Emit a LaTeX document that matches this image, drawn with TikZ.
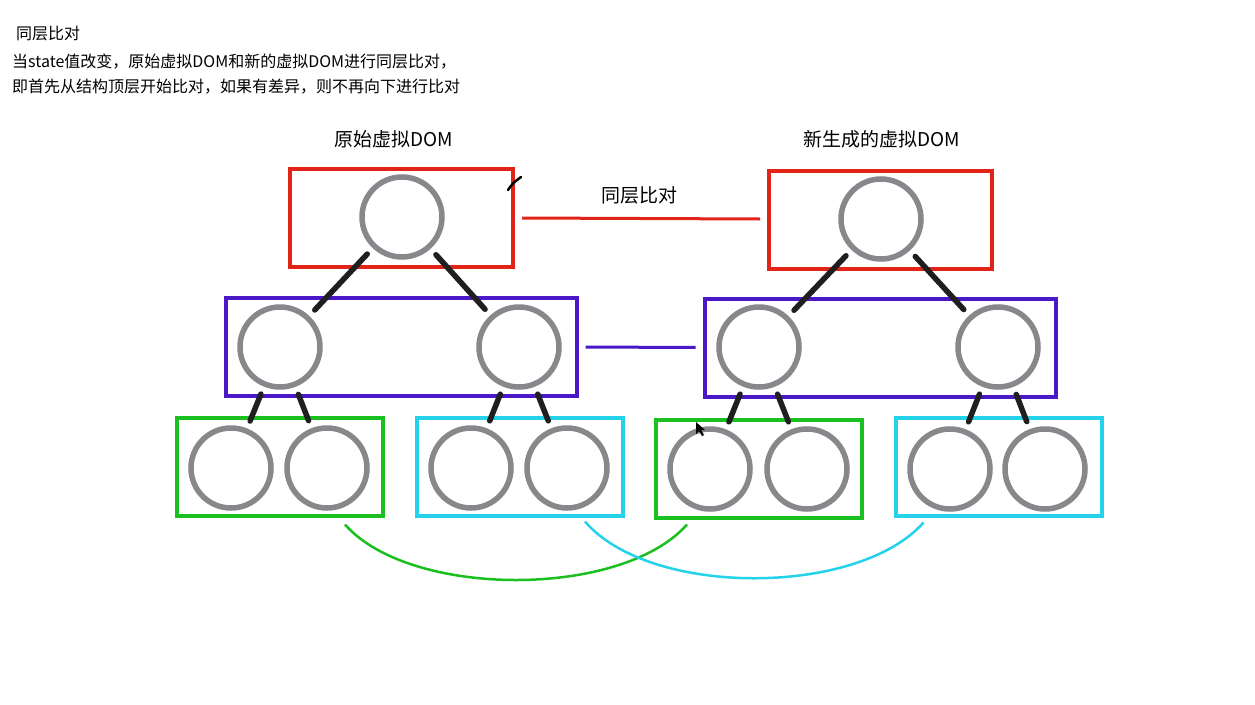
\documentclass[tikz,border=0pt]{standalone}
\usepackage{fontspec}
\setmainfont{Noto Sans CJK SC}
\usetikzlibrary{positioning}

\definecolor{vred}{RGB}{226,36,24}
\definecolor{vpurple}{RGB}{74,24,198}
\definecolor{vgreen}{RGB}{26,192,32}
\definecolor{vcyan}{RGB}{36,210,234}
\definecolor{vgray}{RGB}{136,136,140}

\begin{document}
\begin{tikzpicture}[x=1pt, y=-1pt,
  vnode/.style={circle, draw=vgray, line width=5.5pt, minimum size=80pt,
                inner sep=0pt},
  layer/.style={rectangle, draw=#1, line width=4pt, minimum width=223pt,
                minimum height=98pt},
  wide/.style={minimum width=351pt},
  leaf/.style={minimum width=206pt},
  tree/.style={black!88, line width=5.5pt, line cap=round,
               shorten <=8pt, shorten >=8pt},
  same/.style={line width=3pt, shorten <=7pt, shorten >=7pt},
  match/.style={line width=2.5pt},
  note/.style={inner sep=0pt, font=\fontsize{16}{19}\selectfont},
  head/.style={inner sep=0pt, font=\fontsize{19}{23}\selectfont}
]
\fill[white] (0,0) rectangle (1255,704);
\useasboundingbox (0,0) rectangle (1255,704);

% text at the top
\node[note, anchor=west] (title) at (16,33) {同层比对};
\node[note, anchor=west] (line1) at (12,62) {当state值改变，原始虚拟DOM和新的虚拟DOM进行同层比对，};
\node[note, anchor=west] (line2) at (12,87) {即首先从结构顶层开始比对，如果有差异，则不再向下进行比对};

% layer boxes
\node[layer=vred]            (R0) at (401.5,217.5) {};
\node[layer=vred]            (R1) at (880.5,219.5) {};
\node[layer=vpurple, wide]   (P0) at (401,346.5) {};
\node[layer=vpurple, wide]   (P1) at (880,348) {};
\node[layer=vgreen, leaf]    (G0) at (280,466.5) {};
\node[layer=vcyan, leaf]     (Q0) at (520,466.5) {};
\node[layer=vgreen, leaf]    (G1) at (759,468.5) {};
\node[layer=vcyan, leaf]     (Q1) at (998.5,466.5) {};

% old tree
\node[vnode] (n0)  at (402,217) {};
\node[vnode] (a0)  at (280,347) {};
\node[vnode] (b0)  at (519,347) {};
\node[vnode] (aa0) at (231,468) {};
\node[vnode] (ab0) at (327,468) {};
\node[vnode] (ba0) at (471,468) {};
\node[vnode] (bb0) at (567,468) {};

% new tree
\node[vnode] (n1)  at (881,219) {};
\node[vnode] (a1)  at (759,347) {};
\node[vnode] (b1)  at (998,347) {};
\node[vnode] (aa1) at (710,469) {};
\node[vnode] (ab1) at (807,469) {};
\node[vnode] (ba1) at (950,469) {};
\node[vnode] (bb1) at (1045,469) {};

\draw[tree] (n0) -- (a0);
\draw[tree] (n0) -- (b0);
\draw[tree] (a0) -- (aa0);
\draw[tree] (a0) -- (ab0);
\draw[tree] (b0) -- (ba0);
\draw[tree] (b0) -- (bb0);
\draw[tree] (n1) -- (a1);
\draw[tree] (n1) -- (b1);
\draw[tree] (a1) -- (aa1);
\draw[tree] (a1) -- (ab1);
\draw[tree] (b1) -- (ba1);
\draw[tree] (b1) -- (bb1);

% same level links
\draw[same, vred]    (R0) -- (R1);
\draw[same, vpurple] (P0) -- (P1);

\draw[match, vgreen] ([xshift=65pt, yshift=-7pt]G0.south)
  .. controls +(65,74) and +(-65,74) .. ([xshift=-72pt, yshift=-5pt]G1.south);
\draw[match, vcyan] ([xshift=65pt, yshift=-4pt]Q0.south)
  .. controls +(65,76) and +(-65,74) .. ([xshift=-75pt, yshift=-5pt]Q1.south);

% labels
\node[head] (oldlabel) at (394,139) {原始虚拟DOM};
\node[head] (newlabel) at (882,139) {新生成的虚拟DOM};
\node[head] (samelabel) at (639,195) {同层比对};

% stray pen mark and pointer
\draw[black, line width=2.5pt, line cap=round] (508,190) .. controls (513,183) .. (521,177);
\fill[black] (696,422) -- (696,434) -- (699,431) -- (702,436) -- (704,435)
  -- (701,430) -- (705,430) -- cycle;
\end{tikzpicture}
\end{document}
